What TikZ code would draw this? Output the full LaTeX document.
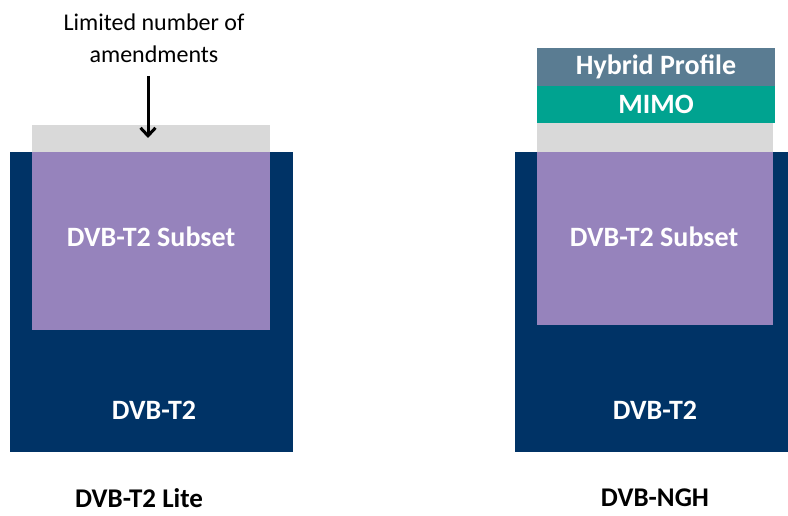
\documentclass[tikz,border=0pt]{standalone}
\usepackage{fontspec}
\setmainfont{Carlito}
\usetikzlibrary{arrows.meta}
\definecolor{navy}{RGB}{0,51,102}
\definecolor{lilac}{RGB}{150,131,188}
\definecolor{lgray}{RGB}{217,217,217}
\definecolor{teal2}{RGB}{0,163,144}
\definecolor{slate}{RGB}{90,124,146}
\begin{document}
\begin{tikzpicture}[x=1pt,y=-1pt,
  blk/.style={draw=none,inner sep=0pt,outer sep=0pt},
  wlab/.style={text=white,font=\bfseries\fontsize{28}{32}\selectfont},
  blab/.style={text=black,inner sep=0pt,font=\bfseries\fontsize{27}{30}\selectfont},
  note/.style={text=black,font=\fontsize{24}{32}\selectfont,align=center,inner sep=0pt}]
\useasboundingbox (0,0) rectangle (788,516);
% left column
\fill[navy] (10,152) rectangle (293,452);
\fill[lgray] (32,125) rectangle (270,152);
\fill[lilac] (32,152) rectangle (270,330);
\node[wlab] (lsub) at (151,237) {DVB-T2 Subset};
\node[wlab] (lt2) at (154,410) {DVB-T2};
\node[blab] (llite) at (139,498) {DVB-T2 Lite};
\node[note] (lnote) at (154,38) {Limited number of\\amendments};
\coordinate (atip) at (148,138);
\draw[line width=3pt,-{Straight Barb[length=8pt,width=15pt]}] (148,76) -- (atip);
% right column
\fill[navy] (515,152) rectangle (788,452);
\fill[lgray] (537,123) rectangle (773,152);
\fill[lilac] (537,152) rectangle (773,325);
\node[blk,fill=teal2,minimum width=238pt,minimum height=37pt,anchor=north west,text=white,font=\bfseries\fontsize{28}{32}\selectfont] (mimo) at (537,86) {MIMO};
\node[blk,fill=slate,minimum width=238pt,minimum height=38pt,anchor=north west,text=white,font=\bfseries\fontsize{28}{32}\selectfont] (hyb) at (537,48) {Hybrid Profile};
\node[wlab] (rsub) at (654,237) {DVB-T2 Subset};
\node[wlab] (rt2) at (655,410) {DVB-T2};
\node[blab] (rngh) at (655,498) {DVB-NGH};
\end{tikzpicture}
\end{document}
